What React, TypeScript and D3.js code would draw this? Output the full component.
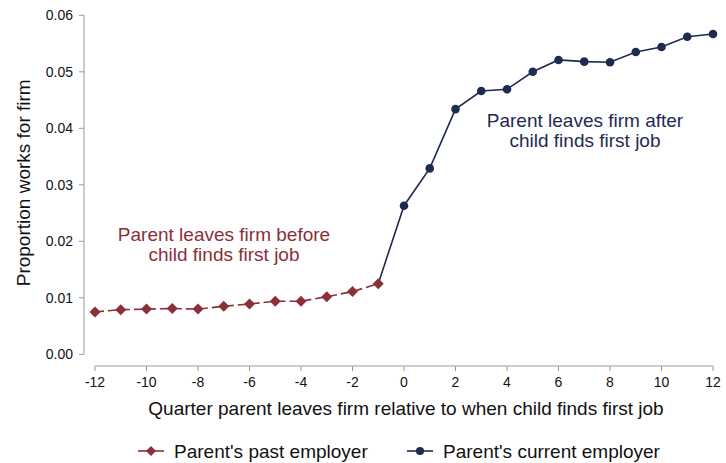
import React from "react";
import * as d3 from "d3";

const pastQuarters = [-12, -11, -10, -9, -8, -7, -6, -5, -4, -3, -2, -1];
const pastValues = [0.0075, 0.0079, 0.008, 0.0081, 0.008, 0.0085, 0.0089, 0.0094, 0.0094, 0.0102, 0.0111, 0.0125];
const currentQuarters = [0, 1, 2, 3, 4, 5, 6, 7, 8, 9, 10, 11, 12];
const currentValues = [0.0263, 0.0329, 0.0434, 0.0466, 0.0469, 0.05, 0.0521, 0.0518, 0.0517, 0.0535, 0.0544, 0.0562, 0.0567];
const xTicks = [-12, -10, -8, -6, -4, -2, 0, 2, 4, 6, 8, 10, 12];
const yTicks = [0, 0.01, 0.02, 0.03, 0.04, 0.05, 0.06];

const RED = "#8B2F39";
const BLUE = "#1E2B50";
const AXIS = "#9a9a9a";
const FONT = "'Liberation Sans', Arial, Helvetica, sans-serif";

export default function App() {
  const W = 726, H = 463;
  const x = d3.scaleLinear().domain([-12, 12]).range([95, 713]);
  const y = d3.scaleLinear().domain([0, 0.06]).range([354.3, 15.3]);
  const line = d3.line<[number, number]>().x(d => x(d[0])).y(d => y(d[1]));
  const past: [number, number][] = pastQuarters.map((q, i) => [q, pastValues[i]]);
  const curr: [number, number][] = currentQuarters.map((q, i) => [q, currentValues[i]]);
  const currWithLink: [number, number][] = [past[past.length - 1], ...curr];
  const diamond = (cx: number, cy: number, r = 5.5) =>
    `M${cx},${cy - r}L${cx + r},${cy}L${cx},${cy + r}L${cx - r},${cy}Z`;
  const axisY = 84;
  const axisX = 366;
  return (
    <svg width={W} height={H} style={{ position: "absolute", left: 0, top: 0, background: "#fff" }} fontFamily={FONT}>
      <rect width={W} height={H} fill="#fff" />
      {/* y axis */}
      <line x1={axisY} x2={axisY} y1={y(0.06)} y2={y(0)} stroke={AXIS} strokeWidth={1} />
      {yTicks.map(t => (
        <g key={t}>
          <line x1={axisY - 5} x2={axisY} y1={y(t)} y2={y(t)} stroke={AXIS} />
          <text x={axisY - 11} y={y(t)} dy="0.35em" textAnchor="end" fontSize={14} fill="#111">{t.toFixed(2)}</text>
        </g>
      ))}
      <text transform={`translate(23,${y(0.03) - 2}) rotate(-90)`} textAnchor="middle" fontSize={19} fill="#111" dy="0.35em">Proportion works for firm</text>
      {/* x axis */}
      <line x1={x(-12)} x2={x(12)} y1={axisX} y2={axisX} stroke={AXIS} />
      {xTicks.map(t => (
        <g key={t}>
          <line x1={x(t)} x2={x(t)} y1={axisX} y2={axisX + 5} stroke={AXIS} />
          <text x={x(t)} y={387} textAnchor="middle" fontSize={14} fill="#111">{t}</text>
        </g>
      ))}
      <text x={406} y={415} textAnchor="middle" fontSize={19} fill="#111">Quarter parent leaves firm relative to when child finds first job</text>
      {/* lines */}
      <path d={line(currWithLink) || ""} fill="none" stroke={BLUE} strokeWidth={1.6} />
      <path d={line(past) || ""} fill="none" stroke={RED} strokeWidth={1.6} strokeDasharray="9,4" />
      {curr.map((d, i) => (
        <circle key={i} cx={x(d[0])} cy={y(d[1])} r={4.3} fill={BLUE} />
      ))}
      {past.map((d, i) => (
        <path key={i} d={diamond(x(d[0]), y(d[1]))} fill={RED} />
      ))}
      {/* annotations */}
      <text x={224} y={241} textAnchor="middle" fontSize={19} fill={RED}>Parent leaves firm before</text>
      <text x={224} y={261} textAnchor="middle" fontSize={19} fill={RED}>child finds first job</text>
      <text x={585} y={127} textAnchor="middle" fontSize={19} fill={BLUE}>Parent leaves firm after</text>
      <text x={585} y={147} textAnchor="middle" fontSize={19} fill={BLUE}>child finds first job</text>
      {/* legend */}
      <line x1={138} x2={164} y1={451} y2={451} stroke={RED} strokeWidth={1.6} />
      <path d={diamond(151, 451, 5)} fill={RED} />
      <text x={174} y={451} dy="0.35em" fontSize={19} fill="#111">Parent's past employer</text>
      <line x1={407} x2={433} y1={451} y2={451} stroke={BLUE} strokeWidth={1.6} />
      <circle cx={420} cy={451} r={4} fill={BLUE} />
      <text x={443} y={451} dy="0.35em" fontSize={19} fill="#111">Parent's current employer</text>
    </svg>
  );
}
